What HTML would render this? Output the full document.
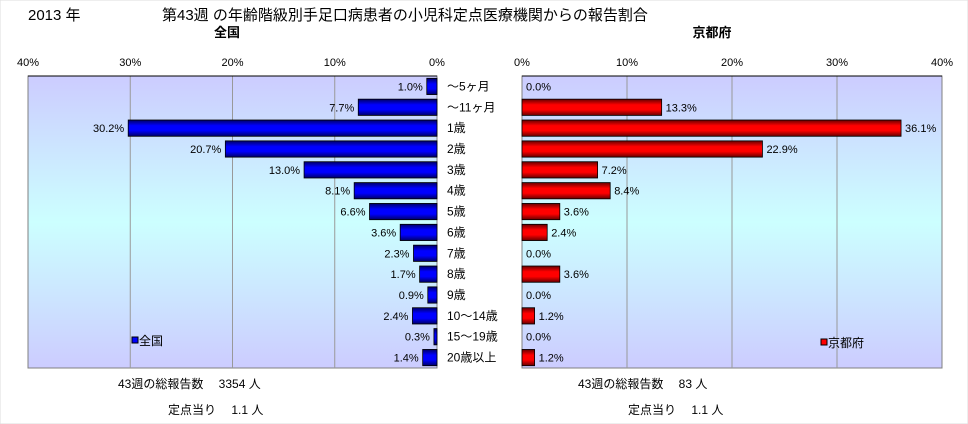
<!DOCTYPE html>
<html><head><meta charset="utf-8"><style>
body{margin:0;background:#fff;}
svg{display:block;font-family:"Liberation Sans","Noto Sans CJK JP",sans-serif;}
</style></head><body>
<svg id="c" width="968" height="424" xmlns="http://www.w3.org/2000/svg">
<defs>
<linearGradient id="bg" x1="0" y1="0" x2="0" y2="1">
<stop offset="0" stop-color="#ccccff"/><stop offset="0.5" stop-color="#ccffff"/><stop offset="1" stop-color="#ccccff"/></linearGradient>
<linearGradient id="gb" x1="0" y1="0" x2="0" y2="1">
<stop offset="0" stop-color="#000066"/><stop offset="0.35" stop-color="#0000ff"/><stop offset="0.65" stop-color="#0000ff"/><stop offset="1" stop-color="#000066"/></linearGradient>
<linearGradient id="gr" x1="0" y1="0" x2="0" y2="1">
<stop offset="0" stop-color="#660000"/><stop offset="0.35" stop-color="#ff0000"/><stop offset="0.65" stop-color="#ff0000"/><stop offset="1" stop-color="#660000"/></linearGradient>
</defs>
<rect x="0" y="0" width="968" height="424" fill="#fff" stroke="#ddd"/>
<text x="28" y="20" font-size="15">2013 年</text>
<text x="162" y="20" font-size="15">第43週 の年齢階級別手足口病患者の小児科定点医療機関からの報告割合</text>
<text x="227" y="37" font-size="13" font-weight="bold" text-anchor="middle">全国</text>
<text x="712" y="37" font-size="13" font-weight="bold" text-anchor="middle">京都府</text>
<g id="g"></g>
<text x="118" y="388" font-size="12">43週の総報告数　  3354 人</text>
<text x="168" y="414" font-size="12">定点当り　 1.1 人</text>
<text x="578" y="388" font-size="12">43週の総報告数　   83 人</text>
<text x="628" y="414" font-size="12">定点当り　 1.1 人</text>
</svg>
<script>
const categories=["～5ヶ月","～11ヶ月","1歳","2歳","3歳","4歳","5歳","6歳","7歳","8歳","9歳","10～14歳","15～19歳","20歳以上"];
const nationalValues=[1.0,7.7,30.2,20.7,13.0,8.1,6.6,3.6,2.3,1.7,0.9,2.4,0.3,1.4];
const kyotoValues=[0.0,13.3,36.1,22.9,7.2,8.4,3.6,2.4,0.0,3.6,0.0,1.2,0.0,1.2];
const tickValues=[0,10,20,30,40];
const NS="http://www.w3.org/2000/svg";
const gEl=document.getElementById('g');
function mk(t,a){const el=document.createElementNS(NS,t);for(const k in a)el.setAttribute(k,a[k]);gEl.appendChild(el);return el;}
const plotTop=76,plotBot=368,rowH=(plotBot-plotTop)/categories.length;
const LP={zero:437,far:28},RP={zero:522,far:942};
const lx=v=>LP.zero-(LP.zero-LP.far)*v/40;
const rx=v=>RP.zero+(RP.far-RP.zero)*v/40;
const ry=i=>plotTop+rowH*i;
let el=mk('rect',{x:LP.far,y:plotTop,width:LP.zero-LP.far,height:plotBot-plotTop,fill:'url(#bg)',stroke:'#808080'});


el=mk('rect',{x:RP.zero,y:plotTop,width:RP.far-RP.zero,height:plotBot-plotTop,fill:'url(#bg)',stroke:'#808080'});


tickValues.forEach(t=>{
  if(t>0&&t<40){
    el=mk('line',{x1:lx(t),x2:lx(t),y1:plotTop,y2:plotBot,stroke:'#999'});
    
    
    el=mk('line',{x1:rx(t),x2:rx(t),y1:plotTop,y2:plotBot,stroke:'#999'});
    
    
  }
  el=mk('text',{x:lx(t),y:66,'font-size':11,'text-anchor':'middle'});el.textContent=t+'%';
  
  
  el=mk('text',{x:rx(t),y:66,'font-size':11,'text-anchor':'middle'});el.textContent=t+'%';
  
  
});
el=mk('line',{x1:LP.far,x2:LP.zero,y1:plotTop,y2:plotTop,stroke:'#000'});


el=mk('line',{x1:RP.zero,x2:RP.far,y1:plotTop,y2:plotTop,stroke:'#000'});


categories.forEach((c,i)=>{
  const y=ry(i),bh=rowH*0.78,by=y+(rowH-bh)/2,cy=y+rowH/2+4;
  const v=nationalValues[i];
  el=mk('rect',{x:lx(v),y:by,width:LP.zero-lx(v),height:bh,fill:'url(#gb)',stroke:'#000','stroke-width':0.8});
  
  
  el=mk('text',{x:lx(v)-4,y:cy,'font-size':11,'text-anchor':'end'});el.textContent=v.toFixed(1)+'%';
  
  
  const k=kyotoValues[i];
  if(k>0){
    el=mk('rect',{x:RP.zero,y:by,width:rx(k)-RP.zero,height:bh,fill:'url(#gr)',stroke:'#000','stroke-width':0.8});
    
    
  }
  el=mk('text',{x:rx(k)+4,y:cy,'font-size':11});el.textContent=k.toFixed(1)+'%';
  
  
  el=mk('text',{x:447,y:cy,'font-size':12});el.textContent=c;
  
  
});
el=mk('rect',{x:132,y:337,width:6,height:6,fill:'#0000ff',stroke:'#000'});


el=mk('text',{x:139,y:345,'font-size':12});el.textContent='全国';


el=mk('rect',{x:821,y:339,width:6,height:6,fill:'#ff0000',stroke:'#000'});


el=mk('text',{x:828,y:347,'font-size':12});el.textContent='京都府';


</script>
</body></html>
